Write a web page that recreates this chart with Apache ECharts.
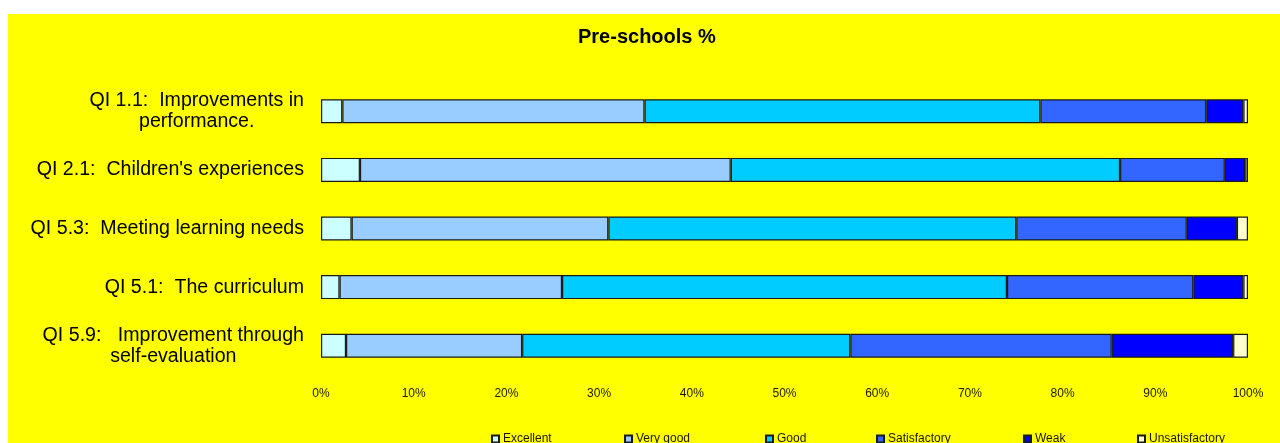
<!DOCTYPE html>
<html>
<head>
<meta charset="utf-8">
<script src="https://cdn.jsdelivr.net/npm/echarts@6/dist/echarts.min.js"></script>
<style>
  html, body { margin: 0; padding: 0; background: #ffffff; width: 1280px; height: 443px; overflow: hidden; }
  #chart { position: absolute; left: 8px; top: 14px; width: 1272px; height: 429px; }
</style>
</head>
<body>
<div id="chart"></div>
<script>
const categories = [
  'QI 1.1:  Improvements in\nperformance.',
  "QI 2.1:  Children's experiences",
  'QI 5.3:  Meeting learning needs',
  'QI 5.1:  The curriculum',
  'QI 5.9:   Improvement through\nself-evaluation'
];
const seriesNames = ['Excellent', 'Very good', 'Good', 'Satisfactory', 'Weak', 'Unsatisfactory'];
const excellent      = [2.3, 4.2, 3.3, 2.0, 2.7];
const veryGood       = [32.6, 40.0, 27.7, 24.0, 19.0];
const good           = [42.7, 42.0, 44.0, 48.0, 35.4];
const satisfactory   = [17.9, 11.3, 18.4, 20.1, 28.2];
const weak           = [4.0, 2.2, 5.4, 5.4, 13.1];
const unsatisfactory = [0.5, 0.3, 1.2, 0.5, 1.6];
const xTicks = [0, 10, 20, 30, 40, 50, 60, 70, 80, 90, 100];

const colors = ['#CCFFFF', '#99CCFF', '#00CCFF', '#3366FF', '#0000FF', '#FFFFCC'];
const values = [excellent, veryGood, good, satisfactory, weak, unsatisfactory];
const FONT = "'Liberation Sans', Arial, sans-serif";

const chart = echarts.init(document.getElementById('chart'), null, { renderer: 'canvas' });

const legendLefts = [478, 611, 752, 863, 1010, 1124];
const legends = seriesNames.map((n, i) => ({
  data: [n],
  left: legendLefts[i],
  top: 414,
  itemWidth: 7,
  itemHeight: 7,
  itemGap: 4,
  icon: 'rect',
  selectedMode: false,
  textStyle: { fontFamily: FONT, fontSize: 12, color: '#1a1a00', padding: [0, 0, 0, -1] }
}));

const option = {
  backgroundColor: '#FFFF00',
  animation: false,
  title: {
    text: 'Pre-schools %',
    left: 570,
    top: 13,
    padding: 0,
    textStyle: { fontFamily: FONT, fontSize: 20, fontWeight: 'bold', color: '#000' }
  },
  legend: legends,
  grid: { left: 313, right: 32, top: 68, bottom: 68, containLabel: false },
  xAxis: {
    type: 'value',
    min: xTicks[0],
    max: xTicks[xTicks.length - 1],
    interval: xTicks[1] - xTicks[0],
    axisLine: { show: false },
    axisTick: { show: false },
    splitLine: { show: false },
    axisLabel: {
      formatter: '{value}%',
      margin: 13,
      fontFamily: FONT,
      fontSize: 12,
      color: '#1a1a00'
    }
  },
  yAxis: {
    type: 'category',
    data: categories,
    inverse: true,
    axisLine: { show: false },
    axisTick: { show: false },
    splitLine: { show: false },
    axisLabel: {
      margin: 17,
      align: 'right',
      formatter: v => v.split('\n').map(l => '{c|' + l + '}').join('\n'),
      rich: {
        c: { align: 'center', fontFamily: FONT, fontSize: 19.6, lineHeight: 21, color: '#000' }
      }
    }
  },
  series: seriesNames.map((n, i) => ({
    name: n,
    type: 'bar',
    stack: 'total',
    barWidth: 24,
    data: values[i],
    itemStyle: { color: colors[i], borderColor: '#1a1a1a', borderWidth: 1.2 }
  }))
};
chart.setOption(option);
</script>
</body>
</html>
